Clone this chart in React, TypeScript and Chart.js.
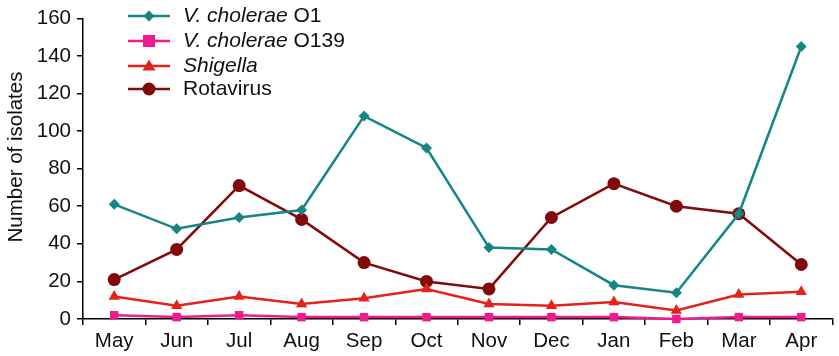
import React, { useEffect, useRef } from "react";
import { Chart, registerables } from "chart.js";
Chart.register(...registerables);

const months = ["May", "Jun", "Jul", "Aug", "Sep", "Oct", "Nov", "Dec", "Jan", "Feb", "Mar", "Apr"];
const choleraeO1 = [61, 48, 54, 58, 108, 91, 38, 37, 18, 14, 56, 145];
const choleraeO139 = [2, 1, 2, 1, 1, 1, 1, 1, 1, 0, 1, 1];
const shigella = [12, 7, 12, 8, 11, 16, 8, 7, 9, 4.5, 13, 14.5];
const rotavirus = [21, 37, 71, 53, 30, 20, 16, 54, 72, 60, 56, 29];
const yMin = 0;
const yMax = 160;
const yStep = 20;
const yTitle = "Number of isolates";
const legendItalic = ["V. cholerae", "V. cholerae", "Shigella", ""];
const legendNormal = [" O1", " O139", "", "Rotavirus"];

const FONT = "'Liberation Sans', Arial, sans-serif";
const colors = ["#168585", "#ee1b8c", "#e4221b", "#820a0a"];
const styles = ["rectRot", "rect", "triangle", "circle"];
const radii = [5.5, 6, 6.5, 6.5];

function drawMarker(ctx: CanvasRenderingContext2D, style: string, r: number, x: number, y: number, color: string) {
  ctx.fillStyle = color;
  ctx.beginPath();
  if (style === "circle") {
    ctx.arc(x, y, r, 0, Math.PI * 2);
  } else if (style === "rect") {
    ctx.rect(x - r, y - r, 2 * r, 2 * r);
  } else if (style === "rectRot") {
    ctx.moveTo(x, y - r);
    ctx.lineTo(x + r, y);
    ctx.lineTo(x, y + r);
    ctx.lineTo(x - r, y);
    ctx.closePath();
  } else if (style === "triangle") {
    ctx.moveTo(x, y - r);
    ctx.lineTo(x + r, y + r * 0.7);
    ctx.lineTo(x - r, y + r * 0.7);
    ctx.closePath();
  }
  ctx.fill();
}

const extrasPlugin = {
  id: "extras",
  afterDraw(chart: any) {
    const ctx = chart.ctx;
    const ys = [16, 41, 66, 89];
    chart.data.datasets.forEach((ds: any, i: number) => {
      const y = ys[i];
      ctx.save();
      ctx.strokeStyle = ds.borderColor;
      ctx.lineWidth = 2.5;
      ctx.beginPath();
      ctx.moveTo(128, y);
      ctx.lineTo(170, y);
      ctx.stroke();
      drawMarker(ctx, ds.pointStyle, ds.pointRadius, 149, y, ds.borderColor);
      ctx.fillStyle = "#111";
      ctx.textBaseline = "middle";
      ctx.textAlign = "left";
      let x = 183;
      if (legendItalic[i]) {
        ctx.font = "italic 21px " + FONT;
        ctx.fillText(legendItalic[i], x, y);
        x += ctx.measureText(legendItalic[i]).width;
      }
      if (legendNormal[i]) {
        ctx.font = "21px " + FONT;
        ctx.fillText(legendNormal[i], x, y);
      }
      ctx.restore();
    });
    ctx.save();
    ctx.translate(16, 157);
    ctx.rotate(-Math.PI / 2);
    ctx.fillStyle = "#111";
    ctx.font = "20.5px " + FONT;
    ctx.textAlign = "center";
    ctx.textBaseline = "middle";
    ctx.fillText(yTitle, 0, 0);
    ctx.restore();
  },
};

export default function App() {
  const ref = useRef<HTMLCanvasElement>(null);
  useEffect(() => {
    if (!ref.current) return;
    const series = [choleraeO1, choleraeO139, shigella, rotavirus];
    const chart = new Chart(ref.current, {
      type: "line",
      data: {
        labels: months,
        datasets: series.map((d, i) => ({
          label: (legendItalic[i] + legendNormal[i]).trim(),
          data: d,
          borderColor: colors[i],
          backgroundColor: colors[i],
          pointBackgroundColor: colors[i],
          pointBorderColor: colors[i],
          pointStyle: styles[i] as any,
          pointRadius: radii[i],
          pointBorderWidth: 0,
          borderWidth: 2.5,
          tension: 0,
          clip: false as any,
        })),
      },
      options: {
        responsive: false,
        animation: false,
        layout: { padding: { left: 0, right: 4, top: 17, bottom: 0 } },
        plugins: { legend: { display: false }, tooltip: { enabled: false } },
        scales: {
          x: {
            type: "category",
            offset: true,
            grid: { display: true, offset: true, drawOnChartArea: false, drawTicks: true, tickLength: 6, color: "#000", lineWidth: 1.5 },
            border: { display: true, color: "#000", width: 1.5 },
            ticks: { color: "#111", font: { family: FONT, size: 20.5 }, padding: 4, maxRotation: 0, autoSkip: false },
            afterFit(scale: any) { scale.height = 37; },
          },
          y: {
            min: yMin,
            max: yMax,
            ticks: { stepSize: yStep, color: "#111", font: { family: FONT, size: 20.5 }, padding: 6 },
            grid: { display: true, drawOnChartArea: false, drawTicks: true, tickLength: 6, color: "#000", lineWidth: 1.5 },
            border: { display: true, color: "#000", width: 1.5 },
            afterFit(scale: any) { scale.width = 83; },
          },
        },
      },
      plugins: [extrasPlugin],
    });
    return () => chart.destroy();
  }, []);
  return (
    <div style={{ position: "absolute", left: 0, top: 0, width: 839, height: 356 }}>
      <canvas ref={ref} width={839} height={356} />
    </div>
  );
}
